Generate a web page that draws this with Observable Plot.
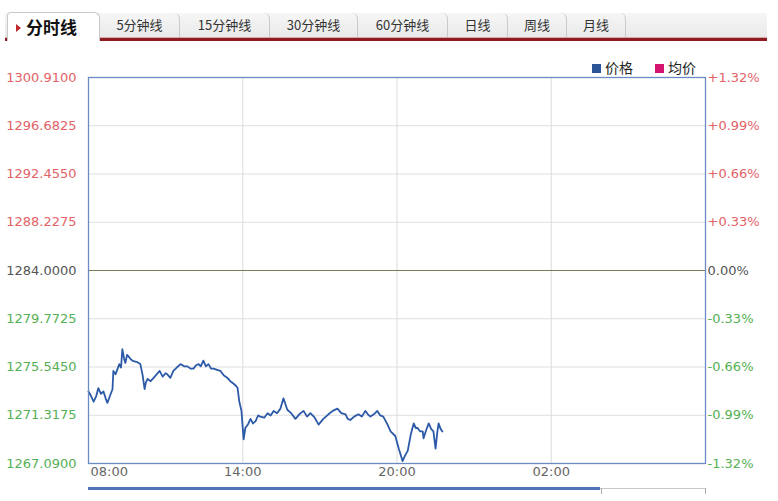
<!DOCTYPE html>
<html>
<head>
<meta charset="utf-8">
<script src="https://cdn.jsdelivr.net/npm/d3@7"></script>
<script src="https://cdn.jsdelivr.net/npm/@observablehq/plot@0.6"></script>
<style>
  html, body { margin: 0; padding: 0; background: #fff; }
  #wrap { position: relative; width: 778px; height: 501px; overflow: hidden; font-family: "DejaVu Sans", sans-serif; }
  #tabbar { position: absolute; left: 5px; top: 13px; width: 762px; height: 25px; background: linear-gradient(#f6f6f6, #e9e9e9); }
  #redline { position: absolute; left: 5px; top: 37px; width: 762px; height: 3px; background: #8e1b20; border-top: 1px solid #d9a9ab; }
  .tab { position: absolute; top: 13px; height: 24px; box-sizing: border-box; border-right: 1px solid #c9c9c9; border-radius: 0 6px 0 0;
         font-family: "Noto Sans CJK SC", sans-serif; font-size: 13px; color: #333; line-height: 24px; text-align: center; }
  .tab.active { top: 12px; height: 29px; background: #fff; border: 1px solid #c9c9c9; border-bottom: none; border-radius: 4px 6px 0 0;
         font-size: 17px; font-weight: bold; color: #111; line-height: 28px; text-align: left; padding-left: 8px; z-index: 2; }
  .tri { display: inline-block; width: 0; height: 0; border-top: 4px solid transparent; border-bottom: 4px solid transparent; border-left: 5px solid #c0282d; margin-right: 5px; vertical-align: 2px; }
  #chart { position: absolute; left: 0; top: 45px; }
  .leg { position: absolute; top: 58px; font-family: "Noto Sans CJK SC", sans-serif; font-size: 14px; color: #222; line-height: 18px; }
  .sq { display: inline-block; width: 9px; height: 9px; margin-right: 4px; vertical-align: 0px; }
  #scroll1 { position: absolute; left: 88px; top: 487px; width: 512px; height: 3px; background: #4f77b8; }
  #scroll2 { position: absolute; left: 600px; top: 488px; width: 106px; height: 1px; background: #c8c8c8; }
  .stk { position: absolute; top: 488px; width: 1px; height: 6px; background: #aaa; }
</style>
</head>
<body>
<div id="wrap">
  <div id="tabbar"></div>
  <div id="redline"></div>
  <div id="tabs"></div>
  <div id="chart"></div>
  <div class="leg" style="left:592px"><span class="sq" style="background:#2c5597"></span>价格</div>
  <div class="leg" style="left:655px"><span class="sq" style="background:#d4136f"></span>均价</div>
  <div id="scroll1"></div><div id="scroll2"></div>
  <div class="stk" style="left:601px"></div><div class="stk" style="left:705px"></div>
</div>
<script>
// ---- data ----
const tabLabels = ["分时线", "5分钟线", "15分钟线", "30分钟线", "60分钟线", "日线", "周线", "月线"];
const tabEdges = [7, 100, 180, 270, 358, 448, 508, 567, 626];

const prevClose = 1284.0;
const yTicks = [1300.91, 1296.6825, 1292.455, 1288.2275, 1284.0, 1279.7725, 1275.545, 1271.3175, 1267.09];
const yTickLabels = ["1300.9100", "1296.6825", "1292.4550", "1288.2275", "1284.0000", "1279.7725", "1275.5450", "1271.3175", "1267.0900"];
const pctLabels = ["+1.32%", "+0.99%", "+0.66%", "+0.33%", "0.00%", "-0.33%", "-0.66%", "-0.99%", "-1.32%"];

const xTicks = [0, 360, 720, 1080];          // minutes after 08:00
const xTickLabels = ["08:00", "14:00", "20:00", "02:00"];

const times = ["08:00","08:06","08:12","08:18","08:23","08:29","08:35","08:40","08:44","08:50","08:56","08:58","09:03","09:08","09:12","09:16","09:19","09:23","09:26","09:30","09:33","09:39","09:45","09:52","10:01","10:06","10:11","10:14","10:18","10:25","10:32","10:39","10:46","10:53","11:00","11:04","11:11","11:18","11:26","11:35","11:43","11:51","11:58","12:05","12:11","12:17","12:22","12:28","12:34","12:40","12:46","12:52","13:00","13:08","13:16","13:24","13:31","13:38","13:44","13:48","13:52","13:57","14:02","14:06","14:12","14:18","14:24","14:30","14:36","14:41","14:50","14:58","15:05","15:12","15:20","15:28","15:35","15:44","15:53","16:03","16:12","16:22","16:30","16:38","16:48","16:57","17:08","17:20","17:30","17:41","17:50","18:00","18:05","18:11","18:20","18:30","18:38","18:46","18:52","18:58","19:06","19:14","19:21","19:28","19:38","19:45","19:56","20:04","20:13","20:19","20:25","20:32","20:39","20:44","20:48","20:54","21:00","21:02","21:08","21:14","21:20","21:25","21:30","21:34","21:37","21:42","21:46"];
const prices = [1273.4,1273.0,1272.5,1273.0,1273.7,1273.2,1273.4,1272.8,1272.4,1273.0,1273.6,1275.2,1274.9,1275.4,1275.8,1275.5,1277.1,1276.3,1275.9,1276.6,1276.5,1276.2,1276.05,1276.0,1275.8,1274.9,1273.6,1274.2,1274.5,1274.3,1274.6,1274.9,1275.2,1274.7,1275.0,1274.9,1274.6,1275.2,1275.5,1275.8,1275.6,1275.6,1275.4,1275.4,1275.7,1275.8,1275.6,1276.1,1275.6,1275.8,1275.4,1275.4,1275.3,1275.2,1274.8,1274.6,1274.3,1274.1,1273.9,1273.7,1272.5,1271.7,1269.2,1270.2,1270.5,1271.0,1270.6,1270.8,1271.3,1271.2,1271.1,1271.5,1271.3,1271.7,1271.5,1271.9,1272.8,1271.8,1271.5,1271.0,1271.4,1271.7,1271.2,1271.5,1271.1,1270.5,1271.0,1271.4,1271.7,1271.9,1271.5,1271.4,1271.0,1270.9,1271.2,1271.4,1271.2,1271.7,1271.4,1271.2,1271.4,1271.7,1271.3,1271.2,1270.5,1269.9,1269.5,1268.4,1267.3,1267.8,1268.2,1269.6,1270.6,1270.2,1270.2,1269.9,1269.9,1269.3,1270.0,1270.6,1270.1,1269.9,1268.4,1269.8,1270.6,1270.1,1269.9];

// ---- build ----
const toMin = t => { const [h, m] = t.split(":").map(Number); let v = (h - 8) * 60 + m; if (v < 0) v += 1440; return v; };
const series = times.map((t, i) => ({ x: toMin(t), y: prices[i] }));

// tabs
const tabsEl = document.getElementById("tabs");
tabLabels.forEach((lab, i) => {
  const d = document.createElement("div");
  d.className = "tab" + (i === 0 ? " active" : "");
  d.style.left = tabEdges[i] + "px";
  d.style.width = (tabEdges[i + 1] - tabEdges[i]) + "px";
  if (i === 0) d.innerHTML = '<span class="tri"></span>' + lab; else d.textContent = lab;
  tabsEl.appendChild(d);
});

const colorFor = v => v > prevClose + 1e-6 ? "#e26266" : (v < prevClose - 1e-6 ? "#55b055" : "#555");
const yTickData = yTicks.map((v, i) => ({ v, lab: yTickLabels[i], pct: pctLabels[i] }));
const xTickData = xTicks.map((v, i) => ({ v, lab: xTickLabels[i] }));

const chart = Plot.plot({
  width: 778,
  height: 456,
  marginTop: 32,
  marginBottom: 38,
  marginLeft: 88,
  marginRight: 73,
  style: { fontFamily: "DejaVu Sans, sans-serif", fontSize: "13px", background: "transparent", overflow: "visible" },
  x: { domain: [0, 1440], axis: null },
  y: { domain: [yTicks[yTicks.length - 1], yTicks[0]], axis: null },
  marks: [
    Plot.ruleY(yTicks.filter(v => v !== prevClose), { stroke: "#dedede", strokeWidth: 1 }),
    Plot.ruleX(xTicks.slice(1), { stroke: "#dcdcdc", strokeWidth: 1 }),
    Plot.ruleY([prevClose], { stroke: "#7b7b55", strokeWidth: 1.2 }),
    Plot.line(series, { x: "x", y: "y", stroke: "#2c5aa8", strokeWidth: 1.8, strokeLinejoin: "round" }),
    Plot.frame({ stroke: "#6a8cc4", strokeWidth: 1.3 }),
    Plot.text(yTickData, { y: "v", text: "lab", frameAnchor: "left", textAnchor: "end", dx: -12, fill: d => colorFor(d.v), fontSize: 13 }),
    Plot.text(yTickData, { y: "v", text: "pct", frameAnchor: "right", textAnchor: "start", dx: 2, fill: d => colorFor(d.v), fontSize: 13 }),
    Plot.text(xTickData.slice(0, 1), { x: "v", text: "lab", frameAnchor: "bottom", dy: 3, lineAnchor: "top", textAnchor: "start", dx: 2, fill: "#666", fontSize: 13 }),
    Plot.text(xTickData.slice(1), { x: "v", text: "lab", frameAnchor: "bottom", dy: 3, lineAnchor: "top", textAnchor: "middle", fill: "#666", fontSize: 13 })
  ]
});
document.getElementById("chart").appendChild(chart);
</script>
</body>
</html>
